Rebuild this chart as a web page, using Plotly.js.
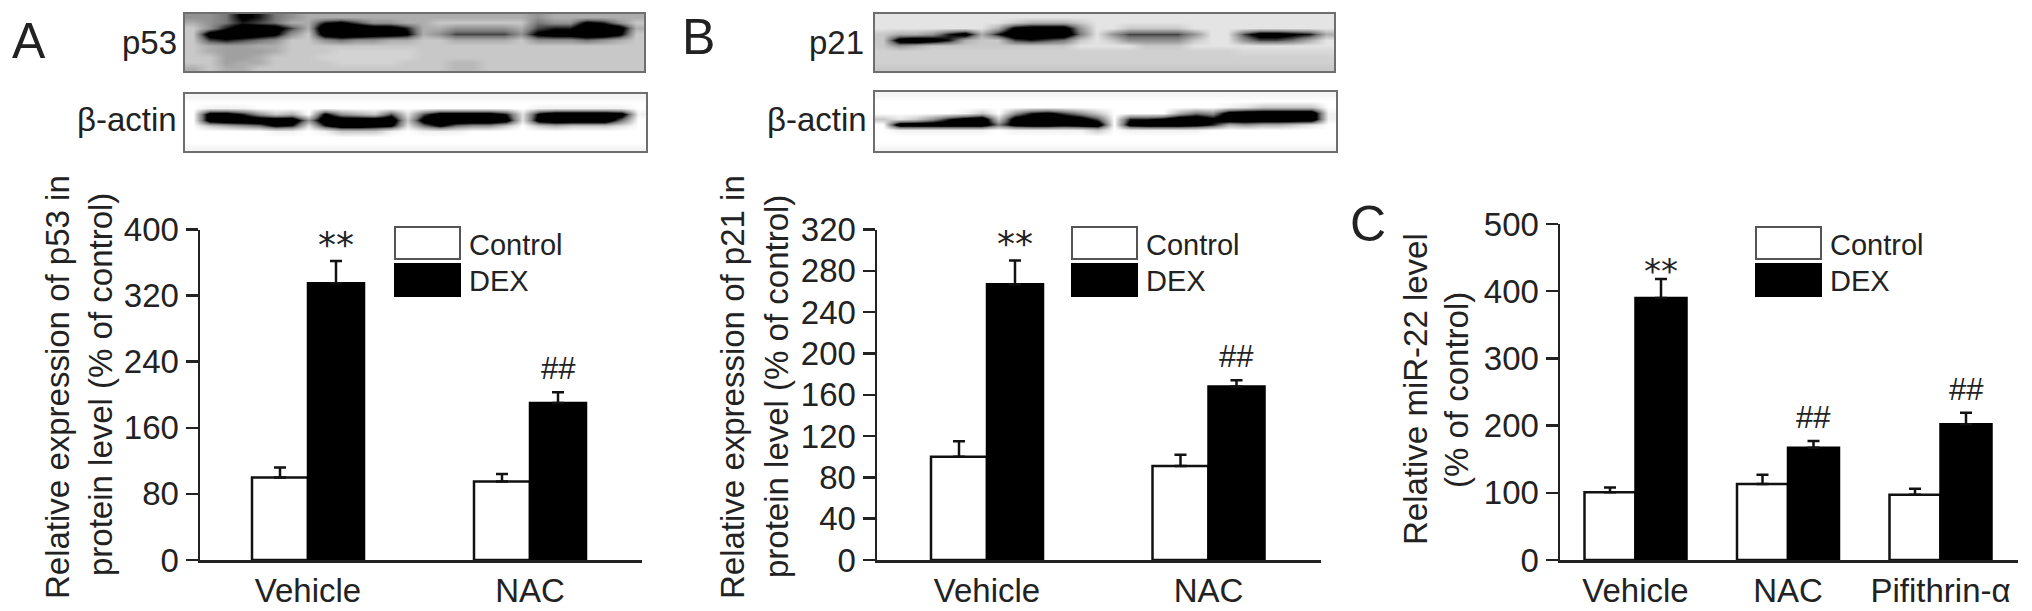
<!DOCTYPE html>
<html>
<head>
<meta charset="utf-8">
<script src="https://cdn.plot.ly/plotly-3.0.1.min.js"></script>
<style>html,body{margin:0;padding:0;background:#fff}</style>
</head>
<body>
<div id="chart" style="width:2032px;height:611px"></div>
<script>
var W = 2032, H = 611;

// bar values
var catsAB = ['Vehicle', 'NAC'];
var catsC = ['Vehicle', 'NAC', 'Pifithrin-α'];
var ctrlA = [100, 95], dexA = [335, 190];
var ctrlAErr = [12, 9], dexAErr = [27, 13];
var ctrlB = [100, 91], dexB = [267, 168];
var ctrlBErr = [15, 11], dexBErr = [23, 6];
var ctrlC = [101, 113, 97], dexC = [390, 167, 202];
var ctrlCErr = [7, 14, 9], dexCErr = [28, 10, 17];
var sigA = ['**', '##'], sigB = ['**', '##'], sigC = ['**', '##', '##'];
var ticksA = [0, 80, 160, 240, 320, 400];
var ticksB = [0, 40, 80, 120, 160, 200, 240, 280, 320];
var ticksC = [0, 100, 200, 300, 400, 500];

// blot grey levels, 0 black .. 10 white
var blotP53 = [
  [6,6,5,2,3,5,6,7,7,7,7,7,7,7,7,7,7,7,7,7,7,6,7,7,7,7,7,7],
  [7,6,5,3,4,5,7,7,3,2,4,6,6,7,7,8,8,8,8,8,8,5,6,6,2,3,6,8],
  [8,6,3,1,1,1,4,7,0,0,0,1,1,3,7,7,6,6,6,6,7,4,3,3,0,0,1,7],
  [8,1,0,0,1,2,6,8,1,0,0,1,1,2,7,6,4,4,4,4,6,2,1,1,0,0,2,8],
  [8,4,3,4,5,6,8,8,6,5,6,6,7,7,8,8,7,7,7,7,8,6,6,6,5,6,7,8],
  [8,7,6.5,6.5,7,7,8,8,8,8,8,8,8,8,8,8,8,8,8,8,8,8,8,8,8,8,8,8],
  [8,7,6.5,6.5,6.5,7,8,8,8,8.4,8.4,8.4,8.4,8.4,8,8,8,8,8,8,8,8,8,8,8,8,8,8],
  [8,8,6.5,6.5,7,8,8,8,8.4,8.4,8.4,8.4,8.4,8.4,8,8,8,8,8,8,8,8,8,8,8,8,8,8],
  [8,8,6.5,7,7,8,8,8,8,8.4,8.4,8.4,8.4,8,8,8,7.4,7.4,8,8,8,8,8,8,8,8,8,8],
  [7,8,7,7,8,8,8,8,8,8,8,8,8,8,8,8,7.4,7.4,8,8,8,8,8,8,8,8,8,8]
];
var blotActinA = [
  [9.6,9.6,9.6,9.6,9.6,9.6,9.6,9.6,9.6,9.6,9.6,9.6,9.6,9.6,9.6,9.6,9.6,9.6,9.6,9.6,9.6,9.6,9.6,9.6,9.6,9.6,9.6,9.6],
  [10,10,10,10,10,10,10,10,10,10,10,10,10,10,10,10,10,10,10,10,10,10,10,10,10,10,10,10],
  [10,9.5,9.5,9.5,10,10,10,10,10,10,10,10,10,10,10,10,10,10,10,10,10,9.5,9.5,9.5,9.5,9.5,9.5,10],
  [10,1,1,3,6,8,7,10,2,6,7,8,4,9,4,1,1,1,1,3,9,2,0,0,0,0,1,9.5],
  [10,1,0,0,0,0,0,6,0,0,0,0,0,8,1,0,0,0,0,1,9,1,0,0,0,0,5,10],
  [10,8,7,6,5,2,3,9,3,0,0,1,2,9,5,2,5,6,6,8,10,8,7,8,8,8,9,10],
  [10,10,10,10,10,9.5,9.5,10,9.5,8,8,8,9.5,10,9.5,9.5,9.5,10,10,10,10,10,10,10,10,10,10,10],
  [10,10,10,10,10,10,10,10,10,10,10,10,10,10,10,10,10,10,10,10,10,10,10,10,10,10,10,10],
  [10,10,10,10,10,10,10,10,10,10,10,10,10,10,10,10,10,10,10,10,10,10,10,10,10,10,10,10],
  [9.6,9.6,9.6,9.6,9.6,9.6,9.6,9.6,9.6,9.6,9.6,9.6,9.6,9.6,9.6,9.6,9.6,9.6,9.6,9.6,9.6,9.6,9.6,9.6,9.6,9.6,9.6,9.6]
];
var blotP21 = [
  [9,9,9,9,9,9,9,9,9,9,9,9,9,9,9,9,9,9,9,9,9,9,9,9,9,9,9,9],
  [9,9,9,9,9,9,9,9,8,7,7,7,8,9,9,9,9,9,9,9,9,9,9,9,9,9,9,9],
  [9,9,9,9,9,9,9,7,2,1,1,1,6,9,9,8,8,8,8,9,9,9,9,9,9,9,9,9],
  [8,7,7,6,3,1,7,3,0,0,0,0,5,9,6,4,4,4,4,6,9,9,4,1,1,2,3,7],
  [8,1,0,1,3,7,8,8,4,3,4,5,8,9,8,6,6,6,6,8,9,9,6,4,4,5,7,9],
  [8,6,7,8,8,8,8,8,8,8,8,8,9,9,9,9,8,8,8,9,9,9,9,9,9,9,9,9],
  [8.3,8.3,8.3,8.3,8.3,8.3,8.3,8.3,8.3,8.3,8.3,8.3,8.3,8.3,8.3,8.3,8.3,8.3,8.3,8.3,8.3,8.3,8.6,8.6,8.6,8.6,8.6,8.6],
  [8.3,8.3,8.3,8.3,8.3,8.3,8.3,8.3,8.3,8.3,8.3,8.3,8.3,8.3,8.3,8.3,8.3,8.3,8.3,8.3,8.3,8.3,8.3,8.3,8.3,8.3,8.3,8.3],
  [8.3,8.3,8.3,8.3,8.3,8.3,8.3,8.3,8.3,8.3,8.3,8.3,8.3,8.3,8.3,8.3,8.3,8.3,8.3,8.3,8.3,8.3,8.3,8.3,8.3,8.3,8.3,8.3],
  [8,8,8,8,8,8,8,8,8,8,8,8,8,8,8,8,8,8,8,8,8,8,8,8,8,8,8,8]
];
var blotActinB = [
  [9.6,9.6,9.6,9.6,9.6,9.6,9.6,9.6,9.6,9.6,9.6,9.6,9.6,9.6,9.6,9.6,9.6,9.6,9.6,9.6,9.6,9.6,9.6,9.6,9.6,9.6,9.6,9.6],
  [10,10,10,10,10,10,10,10,10,10,10,10,10,10,10,10,10,10,10,10,10,10,10,10,10,10,10,10],
  [10,10,10,10,10,10,10,10,10,10,10,10,10,10,10,10,10,10,10,10,10,9.5,9,8,8,8,8,10],
  [10,10,10,10,10,9.5,8,10,6,3,2,4,6,8,10,10,10,10,7,5,6,1,0,0,0,0,0,9.5],
  [8,9,8,6,3,1,0,8,1,0,0,0,1,4,10,3,3,2,0,0,2,0,0,0,0,0,0,9.5],
  [10,0,0,0,0,0,0,5,1,0,0,1,0,0,10,1,0,0,0,1,3,7,6,7,7,8,9,10],
  [10,9.5,9.5,9.5,9.5,9.5,9.5,10,9.5,9.5,9.5,9.5,9.5,8,10,9.5,9.5,9.5,9.5,9.5,10,10,10,10,10,10,10,10],
  [10,10,10,10,10,10,10,10,10,10,10,10,10,10,10,10,10,10,10,10,10,10,10,10,10,10,10,10],
  [10,10,10,10,10,10,10,10,10,10,10,10,10,10,10,10,10,10,10,10,10,10,10,10,10,10,10,10],
  [9.6,9.6,9.6,9.6,9.6,9.6,9.6,9.6,9.6,9.6,9.6,9.6,9.6,9.6,9.6,9.6,9.6,9.6,9.6,9.6,9.6,9.6,9.6,9.6,9.6,9.6,9.6,9.6]
];

var ink = '#222222';
var font = 'Liberation Sans, Arial, sans-serif';

function fx(px) { return px / W; }
function fy(px) { return 1 - px / H; }
function indexes(cats) { return cats.map(function (c, i) { return i; }); }

var traces = [];
var layout = {
    width: W, height: H,
    margin: {l: 0, r: 0, t: 0, b: 0},
    paper_bgcolor: '#fff', plot_bgcolor: 'rgba(0,0,0,0)',
    showlegend: false, barmode: 'group',
    font: {family: font, color: ink},
    shapes: [], annotations: []
};

function note(text, x, y, size, extra) {
    layout.annotations.push(Object.assign({
        text: text, x: x, y: y, xref: 'paper', yref: 'paper', showarrow: false,
        xanchor: 'center', yanchor: 'middle',
        font: {family: font, size: size, color: ink}
    }, extra || {}));
}

function barPanel(n, p) {
    var ax = n === 1 ? '' : String(n);
    var xs = indexes(p.cats);
    var bw = p.barPx / p.stepPx;
    traces.push({type: 'bar', x: xs, y: p.ctrl, name: 'Control', xaxis: 'x' + ax, yaxis: 'y' + ax,
        marker: {color: '#fff', line: {color: '#111', width: 2.5}}, width: bw, offset: -bw,
        error_y: {type: 'data', symmetric: false, array: p.ctrlErr, arrayminus: p.ctrl.map(function () { return 0; }), color: '#111', thickness: 2.5, width: 6}});
    traces.push({type: 'bar', x: xs, y: p.dex, name: 'DEX', xaxis: 'x' + ax, yaxis: 'y' + ax,
        marker: {color: '#000', line: {color: '#000', width: 2.5}}, width: bw, offset: 0,
        error_y: {type: 'data', symmetric: false, array: p.dexErr, arrayminus: p.dex.map(function () { return 0; }), color: '#111', thickness: 2.5, width: 6}});
    layout['xaxis' + ax] = {
        domain: [fx(p.left), fx(p.right)], anchor: 'y' + ax,
        range: [(p.left - p.first) / p.stepPx, (p.right - p.first) / p.stepPx],
        tickvals: xs, ticktext: p.cats, ticks: '', showgrid: false, zeroline: false,
        showline: true, linecolor: ink, linewidth: 2.5,
        tickfont: {size: 33, family: font, color: ink}, ticklabelstandoff: 0
    };
    layout['yaxis' + ax] = {
        domain: [fy(p.bottom), fy(p.top)], anchor: 'x' + ax,
        range: [0, p.ticks[p.ticks.length - 1]], tickvals: p.ticks,
        ticks: 'outside', ticklen: 12, tickwidth: 2.5, tickcolor: ink,
        showgrid: false, zeroline: false, showline: true, linecolor: ink, linewidth: 2.5,
        tickfont: {size: 33, family: font, color: ink}
    };
    // y title lines are separate annotations, the picture's line gap is wider than plotly's
    p.title.forEach(function (t, i) {
        note(t, fx(p.titleX[i]), fy(p.titleY[i]), 33, {textangle: -90});
    });
    // significance marks sit above the DEX error bars
    p.sig.forEach(function (s, i) {
        layout.annotations.push({
            text: s, x: i + bw / 2, y: p.dex[i] + p.dexErr[i], xref: 'x' + ax, yref: 'y' + ax,
            yanchor: 'bottom', showarrow: false, yshift: s === '##' ? 4 : p.starShift,
            font: {family: s === '##' ? font : 'DejaVu Sans', size: s === '##' ? 31 : p.starSize, color: ink}
        });
    });
    // legend keys
    var lx = p.legendX;
    layout.shapes.push({type: 'rect', xref: 'paper', yref: 'paper', x0: fx(lx), x1: fx(lx + 65), y0: fy(259), y1: fy(227), fillcolor: '#fff', line: {color: '#555', width: 2}});
    layout.shapes.push({type: 'rect', xref: 'paper', yref: 'paper', x0: fx(lx), x1: fx(lx + 65), y0: fy(296), y1: fy(264), fillcolor: '#000', line: {color: '#000', width: 2}});
    note('Control', fx(lx + 72), fy(245), 29, {xanchor: 'left'});
    note('DEX', fx(lx + 72), fy(281), 29, {xanchor: 'left'});
}

function blot(n, z, box) {
    var ax = String(n);
    traces.push({type: 'heatmap', z: z, xaxis: 'x' + ax, yaxis: 'y' + ax, zmin: 0, zmax: 10, zsmooth: 'best',
        colorscale: [[0, '#000'], [0.25, '#000'], [0.5, '#777'], [0.8, '#c8c8c8'], [1, '#fff']], showscale: false, hoverinfo: 'skip'});
    var edge = {showgrid: false, zeroline: false, showticklabels: false, ticks: '', showline: true, mirror: true, linecolor: '#6e6e6e', linewidth: 2};
    layout['xaxis' + ax] = Object.assign({domain: [fx(box[0]), fx(box[1])], anchor: 'y' + ax, range: [-0.5, 27.5]}, edge);
    layout['yaxis' + ax] = Object.assign({domain: [fy(box[3]), fy(box[2])], anchor: 'x' + ax, range: [9.5, -0.5]}, edge);
}

barPanel(1, {cats: catsAB, ctrl: ctrlA, dex: dexA, ctrlErr: ctrlAErr, dexErr: dexAErr, sig: sigA, ticks: ticksA,
    left: 200, right: 642, top: 229.5, bottom: 560, first: 308, stepPx: 222, barPx: 56, legendX: 395, starSize: 36, starShift: -6,
    title: ['Relative expression of p53 in', 'protein level (% of control)'], titleX: [57, 100], titleY: [387, 385]});
barPanel(2, {cats: catsAB, ctrl: ctrlB, dex: dexB, ctrlErr: ctrlBErr, dexErr: dexBErr, sig: sigB, ticks: ticksB,
    left: 877, right: 1321, top: 229.5, bottom: 560, first: 987, stepPx: 221.5, barPx: 56, legendX: 1072, starSize: 36, starShift: -6,
    title: ['Relative expression of p21 in', 'protein level (% of control)'], titleX: [732, 776], titleY: [387, 387]});
barPanel(3, {cats: catsC, ctrl: ctrlC, dex: dexC, ctrlErr: ctrlCErr, dexErr: dexCErr, sig: sigC, ticks: ticksC,
    left: 1560, right: 2018, top: 224, bottom: 560, first: 1635.5, stepPx: 152.5, barPx: 51, legendX: 1756, starSize: 34, starShift: -14,
    title: ['Relative miR-22 level', '(% of control)'], titleX: [1415, 1456], titleY: [389, 390]});

blot(4, blotP53, [185, 644, 14, 71]);
blot(5, blotActinA, [185, 646, 94, 151]);
blot(6, blotP21, [875, 1334, 14, 71]);
blot(7, blotActinB, [875, 1336, 92, 151]);

note('p53', fx(179), fy(43), 33, {xanchor: 'right'});
note('β-actin', fx(179), fy(119), 33, {xanchor: 'right'});
note('p21', fx(866), fy(43), 33, {xanchor: 'right'});
note('β-actin', fx(869), fy(119), 33, {xanchor: 'right'});
note('A', fx(29), fy(41), 50);
note('B', fx(698), fy(37), 50);
note('C', fx(1368), fy(224), 50);

Plotly.newPlot('chart', traces, layout, {displayModeBar: false, staticPlot: true});
</script>
</body>
</html>
